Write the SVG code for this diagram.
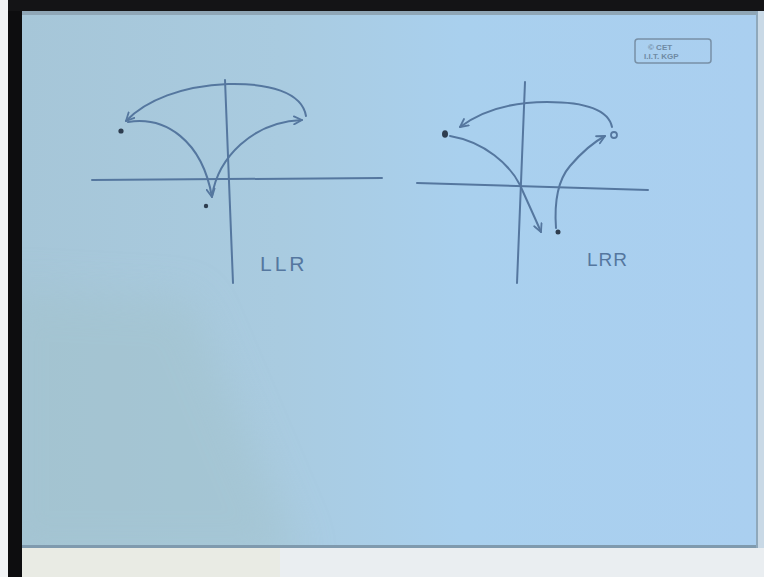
<svg xmlns="http://www.w3.org/2000/svg" width="764" height="577" viewBox="0 0 764 577">
<defs>
<style>
.ink{fill:none;stroke:#55779f;stroke-width:2;stroke-linecap:round;stroke-linejoin:round}
.arr{marker-end:url(#ah)}
.dot{fill:#2e3d4f}
.lbl{font-family:"Liberation Sans",Arial,sans-serif;fill:#55779f}
.cp{font-family:"Liberation Sans",Arial,sans-serif;font-size:8px;fill:#6f8aa3;font-weight:bold}
</style>
<marker id="ah" viewBox="0 0 10 10" refX="9" refY="5" markerWidth="10" markerHeight="10" markerUnits="userSpaceOnUse" orient="auto">
<path d="M1,1 L9,5 L1,9" fill="none" stroke="#55779f" stroke-width="1.8" stroke-linecap="round" stroke-linejoin="round"/>
</marker>
<linearGradient id="pg" x1="0" y1="0" x2="1" y2="0">
<stop offset="0" stop-color="#a6c6d8"/>
<stop offset="0.35" stop-color="#a9cbe0"/>
<stop offset="0.6" stop-color="#a9d0ee"/>
<stop offset="1" stop-color="#aacff0"/>
</linearGradient>
<clipPath id="pc"><rect x="22" y="11" width="736" height="537"/></clipPath>
<filter id="bl" x="-50%" y="-50%" width="200%" height="200%"><feGaussianBlur stdDeviation="20"/></filter>
</defs>
<rect x="0" y="0" width="764" height="577" fill="#eaeef1"/>
<rect x="0" y="548" width="280" height="29" fill="#e9ebe4"/>
<rect x="0" y="0" width="8" height="577" fill="#f1f3f5"/>
<rect x="8" y="0" width="14" height="577" fill="#0d0d0f"/>
<rect x="8" y="0" width="756" height="11" fill="#141416"/>
<rect x="22" y="11" width="736" height="537" fill="url(#pg)"/>
<g clip-path="url(#pc)">
<polygon points="0,290 190,300 300,560 0,560" fill="#a2c2cc" opacity="0.55" filter="url(#bl)"/>
</g>
<rect x="22" y="11" width="736" height="4" fill="#8fa6b6"/>
<rect x="22" y="545" width="736" height="3" fill="#7f9aae"/>
<rect x="756" y="11" width="2" height="537" fill="#8fa8bb"/>
<rect x="758" y="11" width="6" height="537" fill="#c9d9e6"/>

<g id="copyright">
<rect x="635" y="39" width="76" height="24" rx="3" fill="none" stroke="#7890a6" stroke-width="1.5"/>
<text class="cp" x="648" y="50">© CET</text>
<text class="cp" x="644" y="59">I.I.T. KGP</text>
</g>

<g id="llr-plot">
<g id="llr-axes">
<path class="ink" d="M92,180 L382,178"/>
<path class="ink" d="M225,80 L233,283"/>
</g>
<g id="llr-points">
<circle class="dot" cx="121" cy="131" r="2.6"/>
<circle class="dot" cx="206" cy="206" r="2.2"/>
</g>
<g id="llr-connectors">
<path class="ink arr" d="M306,116 C302,92 268,83 228,84 C182,86 146,100 126,121"/>
<path class="ink arr" d="M128,122 C165,116 202,140 212,197"/>
<path class="ink arr" d="M212,196 C218,158 252,122 302,120"/>
</g>
<text class="lbl" x="260" y="271" font-size="21" letter-spacing="3">LLR</text>
</g>

<g id="lrr-plot">
<g id="lrr-axes">
<path class="ink" d="M417,183 L648,190"/>
<path class="ink" d="M525,82 L517,283"/>
</g>
<g id="lrr-points">
<ellipse class="dot" cx="445" cy="134" rx="3" ry="3.8"/>
<circle cx="614" cy="135" r="3" fill="none" stroke="#55779f" stroke-width="1.8"/>
<circle class="dot" cx="558" cy="232" r="2.5"/>
</g>
<g id="lrr-connectors">
<path class="ink arr" d="M612,127 C608,108 580,102 547,102 C510,102 480,112 460,127"/>
<path class="ink arr" d="M450,136 C485,142 510,165 520,185 C528,203 535,218 541,232"/>
<path class="ink arr" d="M556,228 C554,200 558,180 570,166 C582,152 592,143 605,136"/>
</g>
<text class="lbl" x="587" y="266" font-size="19" letter-spacing="1">LRR</text>
</g>
</svg>
